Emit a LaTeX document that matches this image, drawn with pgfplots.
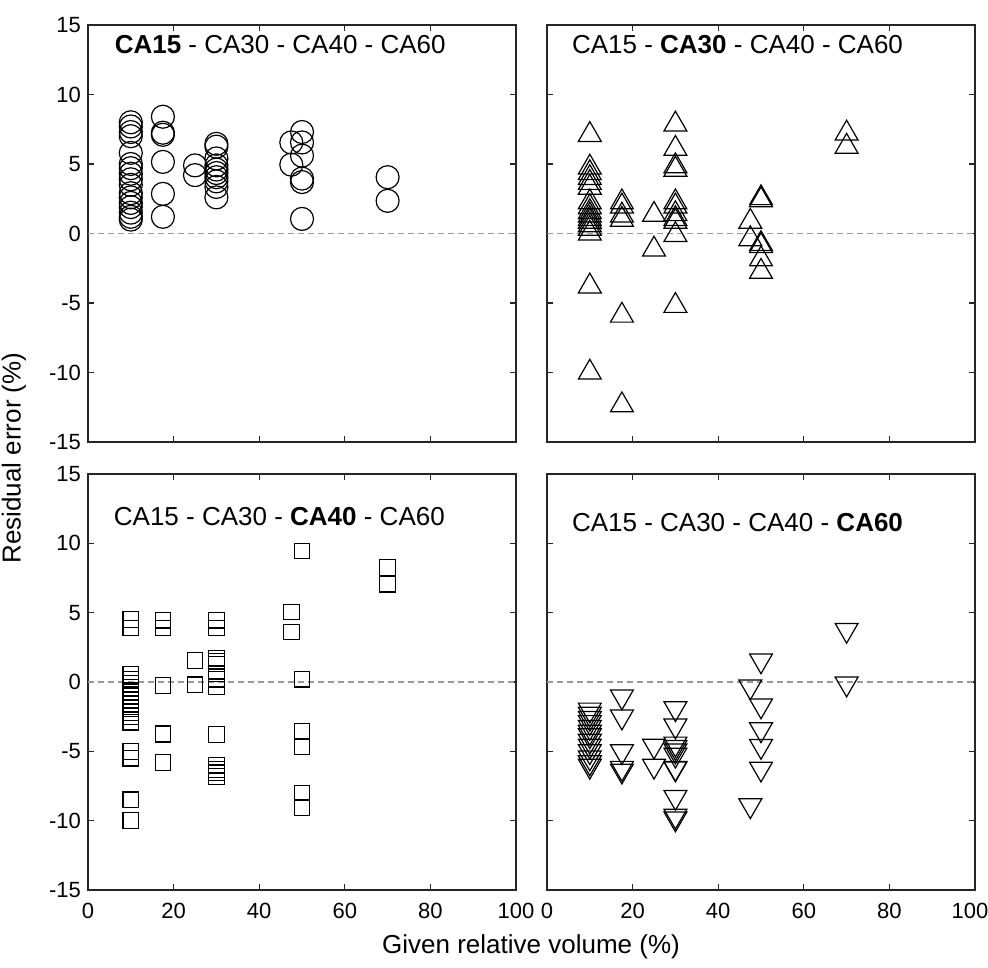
\documentclass[border=0pt]{standalone}
\usepackage{fontspec}
\setmainfont{Liberation Sans}
\usepackage{pgfplots}
\pgfplotsset{compat=1.18}
\pgfplotsset{
  panel/.style={
    scale only axis, width=214pt, height=208.5pt,
    xmin=0, xmax=100, ymin=-15, ymax=15,
    xtick={0,20,...,100}, ytick={-15,-10,...,15},
    tick align=inside, major tick length=3pt,
    xtick pos=both, ytick pos=both,
    axis line style={line width=0.7pt, black!85},
    tick style={line width=0.6pt, black!85},
    ticklabel style={font=\fontsize{11}{13}\selectfont},
    xticklabel style={yshift=-3pt},
    /pgf/number format/assume math mode=true,
    anchor=north west,
  },
  zl/.style={gray!80, dash pattern=on 3pt off 2pt, line width=0.6pt},
  mk/.style={only marks, black, line width=0.6pt},
}
\newcommand{\ttl}{\fontsize{13}{15}\selectfont}
\begin{document}
\begin{tikzpicture}
\path[use as bounding box] (0,0) rectangle (494pt,-483.5pt);
% top-left
\begin{axis}[panel, at={(44pt,-12.5pt)}, xticklabels={}]
\addplot[zl] coordinates {(0,0) (100,0)};
\addplot[mk, mark=o, mark size=5.75pt] coordinates {
(10,8.0)(10,7.7)(10,7.3)(10,7.0)(10,5.8)(10,5.0)(10,4.7)(10,4.3)(10,3.9)(10,3.5)(10,2.9)(10,2.6)(10,2.2)(10,1.9)(10,1.5)(10,1.2)(10,1.0)
(17.5,8.4)(17.5,7.25)(17.5,7.1)(17.5,5.15)(17.5,2.85)(17.5,1.2)
(25,4.9)(25,4.2)
(30,6.45)(30,6.25)(30,5.4)(30,4.9)(30,4.6)(30,4.35)(30,4.05)(30,3.75)(30,3.35)(30,2.6)
(47.5,6.55)(47.5,4.95)
(50,7.3)(50,6.55)(50,5.6)(50,3.95)(50,3.7)(50,1.05)
(70,4.05)(70,2.35)};
\node[anchor=west, font=\ttl] at (axis cs:4.6,13.6) {\textbf{CA15} - CA30 - CA40 - CA60};
\end{axis}
% top-right
\begin{axis}[panel, at={(273.5pt,-12.5pt)}, xticklabels={}, yticklabels={}]
\addplot[zl] coordinates {(0,0) (100,0)};
\addplot[mk, mark=triangle, mark size=6.6pt] coordinates {
(10,7.1)(10,4.75)(10,4.35)(10,4.0)(10,3.65)(10,3.3)(10,2.25)(10,1.9)(10,1.55)(10,1.3)(10,1.05)(10,0.85)(10,0.6)(10,0.35)(10,0.0)(10,-3.8)(10,-10.0)
(17.5,2.25)(17.5,1.95)(17.5,1.3)(17.5,1.0)(17.5,-5.9)(17.5,-12.35)
(25,1.35)(25,-1.15)
(30,7.85)(30,6.1)(30,4.85)(30,4.6)(30,2.25)(30,1.95)(30,1.4)(30,1.05)(30,0.85)(30,-0.1)(30,-5.2)
(47.5,0.85)(47.5,-0.4)
(50,2.55)(50,2.4)(50,-0.75)(50,-0.9)(50,-1.85)(50,-2.75)
(70,7.2)(70,6.25)};
\node[anchor=west, font=\ttl] at (axis cs:4.2,13.6) {CA15 - \textbf{CA30} - CA40 - CA60};
\end{axis}
% bottom-left
\begin{axis}[panel, at={(44pt,-237pt)}, height=208pt]
\addplot[zl] coordinates {(0,0) (100,0)};
\addplot[mk, mark=square, mark size=3.9pt] coordinates {
(10,4.5)(10,3.9)(10,0.55)(10,0.2)(10,-0.1)(10,-0.4)(10,-0.7)(10,-1.0)(10,-1.3)(10,-1.6)(10,-1.9)(10,-2.2)(10,-2.5)(10,-2.9)(10,-5.0)(10,-5.5)(10,-8.5)(10,-10.0)
(17.5,4.45)(17.5,3.9)(17.5,-0.25)(17.5,-3.7)(17.5,-3.8)(17.5,-5.8)
(25,1.55)(25,-0.2)
(30,4.45)(30,3.9)(30,1.7)(30,1.5)(30,1.3)(30,0.6)(30,0.2)(30,-0.35)(30,-3.8)(30,-6.0)(30,-6.3)(30,-6.55)(30,-6.8)
(47.5,5.05)(47.5,3.6)
(50,9.45)(50,0.2)(50,-3.55)(50,-4.65)(50,-8.0)(50,-9.05)
(70,8.25)(70,7.05)};
\node[anchor=west, font=\ttl] at (axis cs:4.4,11.9) {CA15 - CA30 - \textbf{CA40} - CA60};
\end{axis}
% bottom-right
\begin{axis}[panel, at={(273.5pt,-237pt)}, height=208pt, yticklabels={},
  xticklabels={0,20,40,60,80,100\hspace*{5pt}}]
\addplot[zl] coordinates {(0,0) (100,0)};
\addplot[mk, mark=triangle, mark size=6.6pt, every mark/.append style={rotate=180}] coordinates {
(10,-2.0)(10,-2.3)(10,-2.6)(10,-2.9)(10,-3.25)(10,-3.6)(10,-3.85)(10,-4.25)(10,-4.6)(10,-5.0)(10,-5.45)(10,-5.8)(10,-6.05)
(17.5,-1.05)(17.5,-2.5)(17.5,-5.0)(17.5,-6.2)(17.5,-6.4)
(25,-4.6)(25,-6.05)
(30,-1.9)(30,-3.15)(30,-4.45)(30,-4.7)(30,-4.95)(30,-5.25)(30,-6.2)(30,-6.25)(30,-8.3)(30,-9.65)(30,-9.85)
(47.5,-0.33)(47.5,-8.9)
(50,1.55)(50,-1.7)(50,-3.42)(50,-4.62)(50,-6.26)
(70,3.75)(70,-0.12)};
\node[anchor=west, font=\ttl] at (axis cs:4.2,11.5) {CA15 - CA30 - CA40 - \textbf{CA60}};
\end{axis}
\node[rotate=90, font=\fontsize{13}{15}\selectfont] at (7pt,-229pt) {Residual error (\%)};
\node[font=\fontsize{13}{15}\selectfont] at (265.5pt,-473.5pt) {Given relative volume (\%)};
\end{tikzpicture}
\end{document}
